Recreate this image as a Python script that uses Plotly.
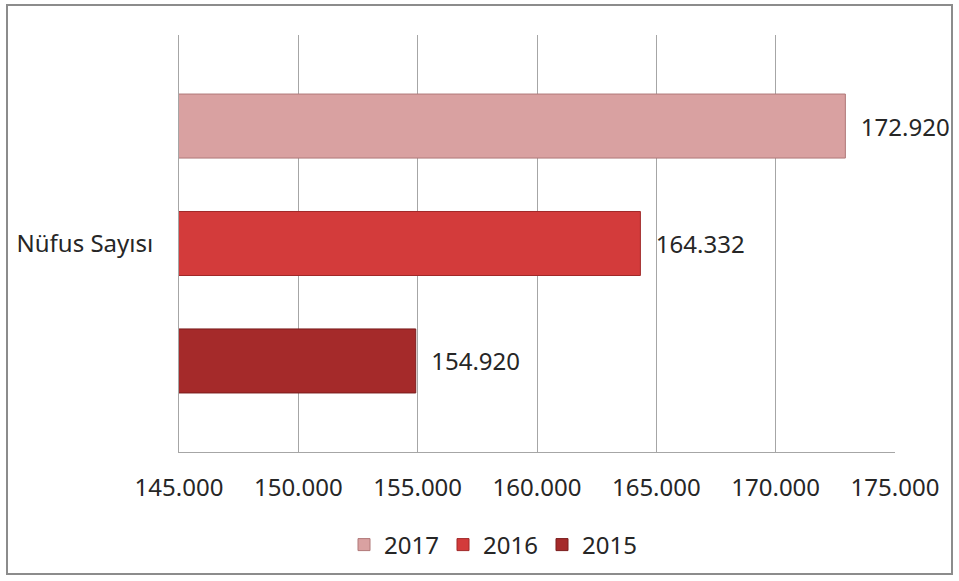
import plotly.graph_objects as go

categories = ["Nüfus Sayısı"]
years = ["2015", "2016", "2017"]
values = [154920, 164332, 172920]
colors = ["#a52a2a", "#d33b3b", "#d9a1a1"]
line_colors = ["#7a1c1c", "#a02828", "#b07878"]
tick_vals = [145000, 150000, 155000, 160000, 165000, 170000, 175000]

FONT = "Noto Sans"

fig = go.Figure()
for yr, v, c, lc in zip(years, values, colors, line_colors):
    fig.add_trace(go.Bar(
        y=categories, x=[v], name=yr, orientation="h",
        marker=dict(color=c, line=dict(color=lc, width=1)),
        text=[v], texttemplate="\u00a0\u00a0%{x:,.0f}",
        textposition="outside", cliponaxis=False,
        textfont=dict(family=FONT, size=24, color="#262626"),
        constraintext="none",
    ))

L, R, T, B = 179, 64, 35, 129
W, H = 959, 581
pw, ph = W - L - R, H - T - B

fig.update_layout(
    width=W, height=H,
    margin=dict(l=L, r=R, t=T, b=B),
    paper_bgcolor="white", plot_bgcolor="white",
    barmode="group", bargap=0.155, bargroupgap=0.455,
    separators=",.",
    font=dict(family=FONT, size=24, color="#262626"),
    showlegend=True,
    legend=dict(orientation="h", traceorder="reversed",
                x=(344 - L) / pw, xanchor="left",
                y=(452 - 545) / ph, yanchor="middle",
                font=dict(family=FONT, size=24, color="#262626"),
                itemwidth=30, entrywidth=54, entrywidthmode="pixels",
                bgcolor="rgba(0,0,0,0)"),
    xaxis=dict(range=[145000, 175000], tickvals=tick_vals, tickformat=",.0f",
               showgrid=True, gridcolor="#a6a6a6", gridwidth=1,
               showline=True, linecolor="#a6a6a6", linewidth=1,
               zeroline=False, ticks="", ticklabelstandoff=14,
               tickfont=dict(family=FONT, size=24, color="#262626"),
               fixedrange=True),
    yaxis=dict(showline=True, linecolor="#a6a6a6", linewidth=1,
               showgrid=False, ticks="", ticklabelstandoff=20,
               tickfont=dict(family=FONT, size=24, color="#262626"),
               fixedrange=True),
    shapes=[dict(type="rect", xref="paper", yref="paper",
                 x0=(7 - L) / pw, x1=(952 - L) / pw,
                 y0=(452 - 574) / ph, y1=(452 - 5) / ph,
                 line=dict(color="#8c8c8c", width=2), fillcolor="rgba(0,0,0,0)",
                 layer="below")],
)

fig.write_html("out.html", config={"displayModeBar": False},
               post_script="document.body.style.margin='0';document.body.style.padding='0';")
